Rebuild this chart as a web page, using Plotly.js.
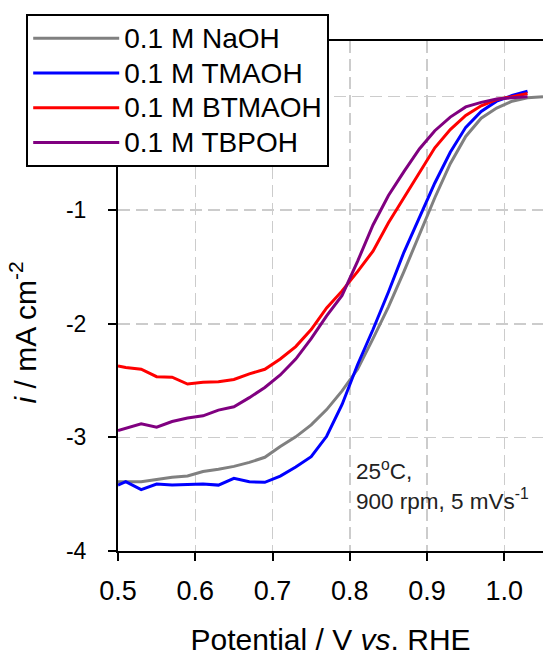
<!DOCTYPE html>
<html>
<head>
<meta charset="utf-8">
<script src="https://cdn.plot.ly/plotly-3.0.1.min.js"></script>
<style>
  html, body { margin: 0; padding: 0; background: #fff; }
  #chart { width: 543px; height: 656px; }
</style>
</head>
<body>
<div id="chart"></div>
<script>
// Potential (V vs. RHE)
const potential = [0.50, 0.51, 0.53, 0.55, 0.57, 0.59, 0.61, 0.63, 0.65, 0.67, 0.69, 0.71, 0.73, 0.75, 0.77, 0.79, 0.81, 0.83, 0.85, 0.87, 0.89, 0.91, 0.93, 0.95, 0.97, 0.99, 1.01, 1.03];
const potentialNaOH = [0.50, 0.51, 0.53, 0.55, 0.57, 0.59, 0.61, 0.63, 0.65, 0.67, 0.69, 0.71, 0.73, 0.75, 0.77, 0.79, 0.81, 0.83, 0.85, 0.87, 0.89, 0.91, 0.93, 0.95, 0.97, 0.99, 1.01, 1.03, 1.05];

// Current density (mA cm^-2)
const naoh   = [-3.39, -3.39, -3.39, -3.37, -3.35, -3.34, -3.30, -3.28, -3.255, -3.22, -3.175, -3.08, -2.995, -2.89, -2.755, -2.59, -2.40, -2.13, -1.85, -1.54, -1.21, -0.89, -0.59, -0.35, -0.19, -0.10, -0.04, -0.01, 0.0];
const tmaoh  = [-3.42, -3.39, -3.46, -3.41, -3.42, -3.415, -3.41, -3.42, -3.36, -3.39, -3.395, -3.34, -3.26, -3.17, -2.99, -2.71, -2.36, -2.05, -1.72, -1.37, -1.07, -0.76, -0.49, -0.27, -0.13, -0.04, 0.01, 0.048];
const btmaoh = [-2.37, -2.385, -2.40, -2.465, -2.47, -2.53, -2.515, -2.51, -2.49, -2.44, -2.40, -2.31, -2.20, -2.05, -1.86, -1.71, -1.54, -1.36, -1.11, -0.89, -0.67, -0.45, -0.29, -0.165, -0.08, -0.025, 0.0, 0.028];
const tbpoh  = [-2.94, -2.92, -2.88, -2.91, -2.86, -2.83, -2.81, -2.76, -2.73, -2.65, -2.56, -2.45, -2.31, -2.13, -1.93, -1.75, -1.45, -1.13, -0.87, -0.66, -0.46, -0.30, -0.18, -0.09, -0.05, -0.02, -0.01, 0.0];

const seriesNames = ['0.1 M NaOH', '0.1 M TMAOH', '0.1 M BTMAOH', '0.1 M TBPOH'];
const seriesColors = ['#808080', '#0000ff', '#ff0000', '#800080'];

const xTicks = [0.5, 0.6, 0.7, 0.8, 0.9, 1.0];
const yTicks = [-4, -3, -2, -1, 0];
const yTickText = ['-4', '-3', '-2', '-1', '0'];

const xs = [potentialNaOH, potential, potential, potential];
const ys = [naoh, tmaoh, btmaoh, tbpoh];

const traces = ys.map((y, i) => ({
  x: xs[i], y: y, type: 'scatter', mode: 'lines',
  name: '<span style="font-size:28px">' + seriesNames[i] + '</span>',
  line: { color: seriesColors[i], width: 3 }
}));

const FONT = 'Liberation Sans, Arial, sans-serif';

const layout = {
  width: 543, height: 656,
  margin: { l: 118, r: 0, t: 41, b: 105 },
  paper_bgcolor: '#ffffff', plot_bgcolor: '#ffffff',
  font: { family: FONT, color: '#000' },
  showlegend: true,
  legend: {
    x: -0.216, y: 1.053, xanchor: 'left', yanchor: 'top',
    bgcolor: '#ffffff', bordercolor: '#000', borderwidth: 2,
    font: { family: FONT, size: 24.4, color: '#000' },
    itemwidth: 86, tracegroupgap: 0
  },
  xaxis: {
    range: [0.5, 1.05], tickvals: xTicks, tickformat: '.1f',
    showline: true, linecolor: '#000', linewidth: 2, mirror: true,
    ticks: 'outside', ticklen: 8, tickwidth: 2, tickcolor: '#000',
    showgrid: true, gridcolor: '#cccccc', gridwidth: 1.5, griddash: '12px,6px',
    zeroline: false,
    tickfont: { family: FONT, size: 27, color: '#000' },
    ticklabelstandoff: 7,
    title: { text: 'Potential / V <i>vs</i>. RHE', font: { family: FONT, size: 30, color: '#000' }, standoff: 28 }
  },
  yaxis: {
    range: [-4, 0.49], tickvals: yTicks, ticktext: yTickText,
    showline: true, linecolor: '#000', linewidth: 2, mirror: false,
    ticks: 'outside', ticklen: 8, tickwidth: 2, tickcolor: '#000',
    showgrid: true, gridcolor: '#cccccc', gridwidth: 1.5, griddash: '12px,6px',
    zeroline: false,
    tickfont: { family: FONT, size: 23, color: '#000' },
    ticklabelstandoff: 17
  },
  annotations: [
    {
      xref: 'paper', yref: 'paper', x: -0.223, y: 0.429,
      xanchor: 'center', yanchor: 'middle', textangle: -90, showarrow: false,
      text: '<i>i</i> / mA cm<sup>-2</sup>',
      font: { family: FONT, size: 30, color: '#000' }
    },
    {
      xref: 'paper', yref: 'paper', x: 0.555, y: 0.13,
      xanchor: 'left', yanchor: 'middle', align: 'left', showarrow: false,
      text: '25<sup>o</sup>C,<br>900 rpm, 5 mVs<sup>-1</sup>',
      font: { family: FONT, size: 22.5, color: '#222' }
    }
  ]
};

Plotly.newPlot('chart', traces, layout, { displayModeBar: false, staticPlot: true });
</script>
</body>
</html>
